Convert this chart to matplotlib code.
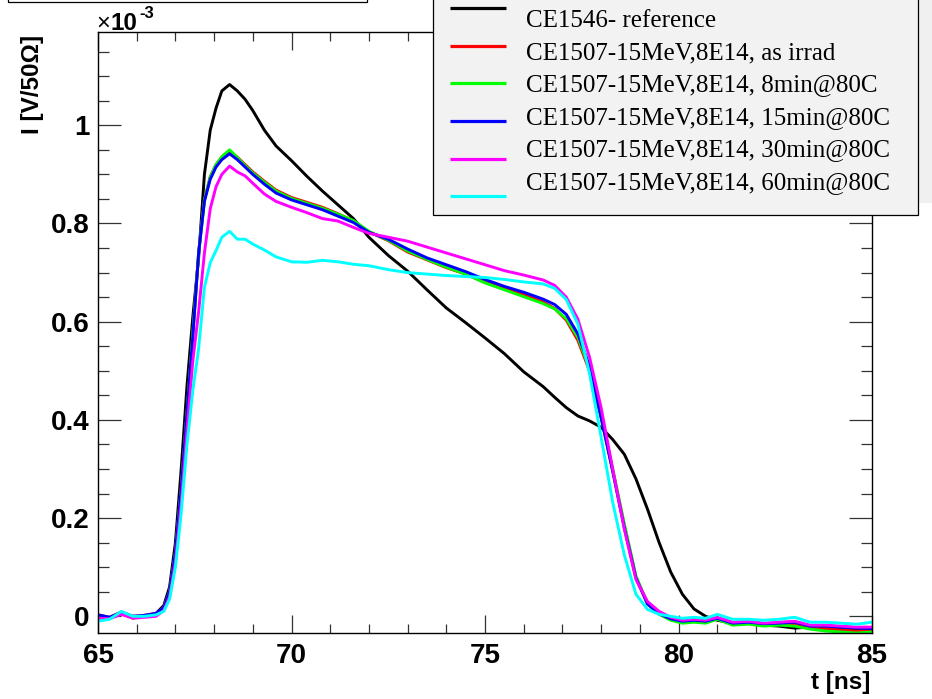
import numpy as np
import matplotlib
matplotlib.use("Agg")
import matplotlib.pyplot as plt
from matplotlib.patches import Rectangle

# ---------------- data (current in units of 1e-3 V/50 Ohm) ----------------
t_ns = [65.0, 65.3, 65.6, 65.9, 66.2, 66.5, 66.7, 66.85, 67.0, 67.15, 67.3, 67.45,
        67.6, 67.75, 67.9, 68.05, 68.2, 68.4, 68.6, 68.8, 69.0, 69.3, 69.6, 70.0,
        70.4, 70.8, 71.2, 71.6, 72.0, 72.5, 73.0, 73.5, 74.0, 74.5, 75.0, 75.5,
        76.0, 76.5, 76.8, 77.1, 77.4, 77.7, 78.0, 78.3, 78.6, 78.9, 79.2, 79.5,
        79.8, 80.1, 80.4, 80.7, 81.0, 81.4, 81.8, 82.2, 82.6, 83.0, 83.4, 83.8,
        84.2, 84.6, 85.0]

I_ref = [0.002, -0.003, 0.006, -0.002, 0.000, 0.006, 0.022, 0.06, 0.15, 0.30, 0.47, 0.61,
         0.73, 0.90, 0.99, 1.035, 1.07, 1.083, 1.07, 1.053, 1.03, 0.99, 0.958, 0.928,
         0.896, 0.866, 0.838, 0.81, 0.772, 0.735, 0.703, 0.665, 0.628, 0.598, 0.567, 0.535,
         0.498, 0.468, 0.446, 0.425, 0.408, 0.398, 0.385, 0.36, 0.33, 0.28, 0.218, 0.15,
         0.09, 0.045, 0.015, 0.0, -0.008, -0.014, -0.014, -0.018, -0.02, -0.024, -0.022, -0.026,
         -0.024, -0.026, -0.028]

I_asirr = [0.003, -0.002, 0.009, 0.000, 0.002, 0.006, 0.018, 0.05, 0.13, 0.26, 0.415, 0.575,
           0.74, 0.848, 0.895, 0.92, 0.935, 0.948, 0.935, 0.92, 0.905, 0.886, 0.868, 0.853,
           0.843, 0.833, 0.82, 0.805, 0.783, 0.765, 0.742, 0.726, 0.71, 0.697, 0.68, 0.668,
           0.655, 0.64, 0.627, 0.603, 0.562, 0.50, 0.405, 0.298, 0.185, 0.08, 0.025, 0.005,
           -0.006, -0.012, -0.01, -0.012, -0.004, -0.016, -0.014, -0.018, -0.016, -0.016, -0.024, -0.025,
           -0.028, -0.03, -0.03]

I_8min = [0.002, -0.003, 0.007, -0.004, 0.001, 0.005, 0.017, 0.05, 0.13, 0.26, 0.415, 0.575,
          0.74, 0.848, 0.895, 0.92, 0.936, 0.95, 0.934, 0.918, 0.903, 0.884, 0.866, 0.851,
          0.841, 0.831, 0.819, 0.806, 0.784, 0.766, 0.744, 0.727, 0.711, 0.697, 0.679, 0.665,
          0.651, 0.637, 0.626, 0.606, 0.568, 0.505, 0.41, 0.30, 0.188, 0.082, 0.026, 0.004,
          -0.008, -0.014, -0.012, -0.014, -0.006, -0.018, -0.016, -0.02, -0.018, -0.02, -0.026, -0.03,
          -0.032, -0.034, -0.032]

I_15min = [0.003, -0.002, 0.008, 0.000, 0.002, 0.006, 0.018, 0.05, 0.13, 0.26, 0.415, 0.57,
           0.74, 0.845, 0.89, 0.915, 0.93, 0.942, 0.93, 0.915, 0.90, 0.88, 0.862, 0.848,
           0.838, 0.828, 0.815, 0.802, 0.782, 0.768, 0.748, 0.73, 0.716, 0.702, 0.686, 0.672,
           0.66, 0.646, 0.635, 0.615, 0.575, 0.51, 0.405, 0.295, 0.18, 0.078, 0.025, 0.005,
           -0.005, -0.01, -0.008, -0.01, -0.004, -0.014, -0.012, -0.015, -0.014, -0.012, -0.02, -0.02,
           -0.022, -0.024, -0.025]

I_30min = [-0.004, -0.005, 0.004, -0.004, -0.002, 0.0, 0.012, 0.04, 0.11, 0.23, 0.38, 0.52,
           0.62, 0.74, 0.83, 0.875, 0.90, 0.917, 0.905, 0.897, 0.882, 0.86, 0.845, 0.833,
           0.822, 0.81, 0.805, 0.792, 0.78, 0.772, 0.764, 0.752, 0.74, 0.728, 0.716, 0.704,
           0.695, 0.685, 0.674, 0.65, 0.605, 0.528, 0.425, 0.30, 0.178, 0.075, 0.03, 0.01,
           -0.002, -0.008, -0.006, -0.008, -0.002, -0.012, -0.01, -0.014, -0.012, -0.01, -0.018, -0.018,
           -0.02, -0.022, -0.022]

I_60min = [-0.01, -0.006, 0.01, 0.0, 0.0, 0.003, 0.01, 0.035, 0.10, 0.21, 0.35, 0.46,
           0.545, 0.67, 0.72, 0.745, 0.772, 0.784, 0.768, 0.768, 0.758, 0.746, 0.732, 0.722,
           0.721, 0.725, 0.722, 0.717, 0.714, 0.706, 0.70, 0.697, 0.694, 0.692, 0.69, 0.686,
           0.681, 0.677, 0.668, 0.645, 0.595, 0.495, 0.365, 0.232, 0.125, 0.045, 0.014, 0.004,
           0.0, -0.004, -0.002, -0.004, 0.004, -0.006, -0.006, -0.008, -0.006, -0.002, -0.012, -0.012,
           -0.014, -0.016, -0.012]

series = [I_ref, I_asirr, I_8min, I_15min, I_30min, I_60min]
labels = ["CE1546- reference",
          "CE1507-15MeV,8E14, as irrad",
          "CE1507-15MeV,8E14, 8min@80C",
          "CE1507-15MeV,8E14, 15min@80C",
          "CE1507-15MeV,8E14, 30min@80C",
          "CE1507-15MeV,8E14, 60min@80C"]
colors = ["#000000", "#ff0000", "#00ff00", "#0000ff", "#ff00ff", "#00ffff"]

x_major = [65, 70, 75, 80, 85]
x_labels = ["65", "70", "75", "80", "85"]
y_major = [0.0, 0.2, 0.4, 0.6, 0.8, 1.0]
y_labels = ["0", "0.2", "0.4", "0.6", "0.8", "1"]

# ---------------- figure ----------------
plt.rcParams["font.family"] = ["Liberation Sans", "DejaVu Sans"]
W, H = 932, 699
fig = plt.figure(figsize=(W / 100, H / 100), dpi=100)
ax = fig.add_axes([98 / W, 1 - 633 / H, 774 / W, 601 / H])

for vals, col in zip(series, colors):
    ax.plot(t_ns, vals, color=col, lw=2.1, solid_joinstyle="round")

ax.set_xlim(65, 85)
ax.set_ylim(-0.034, 1.19)
ax.set_xticks(x_major)
ax.set_xticklabels(x_labels)
ax.set_xticks(np.arange(65, 85.01, 1), minor=True)
ax.set_yticks(y_major)
ax.set_yticklabels(y_labels)
ax.set_yticks(np.arange(0, 1.19, 0.05), minor=True)
ax.tick_params(which="both", direction="in", top=True, right=True, width=0.9, color="#333333")
ax.tick_params(axis="x", which="major", length=13, labelsize=20, pad=7)
ax.tick_params(axis="x", which="minor", length=6.5)
ax.tick_params(axis="y", which="major", length=16.5, labelsize=20, pad=6)
ax.tick_params(axis="y", which="minor", length=8)
for lbl in ax.get_xticklabels() + ax.get_yticklabels():
    lbl.set_fontweight("bold")
for sp in ax.spines.values():
    sp.set_linewidth(1.0)

# ---------------- overlay (pixel coordinates) ----------------
ov = fig.add_axes([0, 0, 1, 1], zorder=10)
ov.set_xlim(0, W)
ov.set_ylim(H, 0)
ov.axis("off")
ov.patch.set_alpha(0)

# partial title box at the very top
ov.add_patch(Rectangle((8, -10), 359, 12, fc="white", ec="black", lw=0.9))
# grey strip on the right and legend box
ov.add_patch(Rectangle((918, -5), 20, 208, fc="#f0f0f0", ec="none"))
ov.add_patch(Rectangle((433, -5), 485, 220, fc="#f2f2f2", ec="black", lw=0.9))

line_y = [8.3, 45.7, 83.3, 120.7, 159, 196]
text_y = [26.7, 59, 91.5, 124, 156.5, 189]
for ly, ty, lab, col in zip(line_y, text_y, labels, colors):
    ov.plot([450, 506], [ly, ly], color=col, lw=2.3, solid_capstyle="butt")
    ov.text(526, ty, lab, family=["Liberation Serif", "DejaVu Serif"], fontsize=18,
            va="baseline", ha="left", fontweight="normal")

# axis titles
ov.text(870, 689, "t [ns]", ha="right", va="baseline", fontsize=17.5, fontweight="bold")
ov.text(33, 35, "I [V/50\u03a9]", rotation=90, ha="center", va="top", fontsize=17.5,
        fontweight="bold")

# exponent
ov.text(96, 30, "\u00d7", ha="left", va="baseline", fontsize=17, fontweight="normal")
ov.text(111, 30, "10", ha="left", va="baseline", fontsize=17.5, fontweight="bold")
ov.text(139, 18, "-3", ha="left", va="baseline", fontsize=12, fontweight="bold")

fig.savefig("out.png", dpi=100)
